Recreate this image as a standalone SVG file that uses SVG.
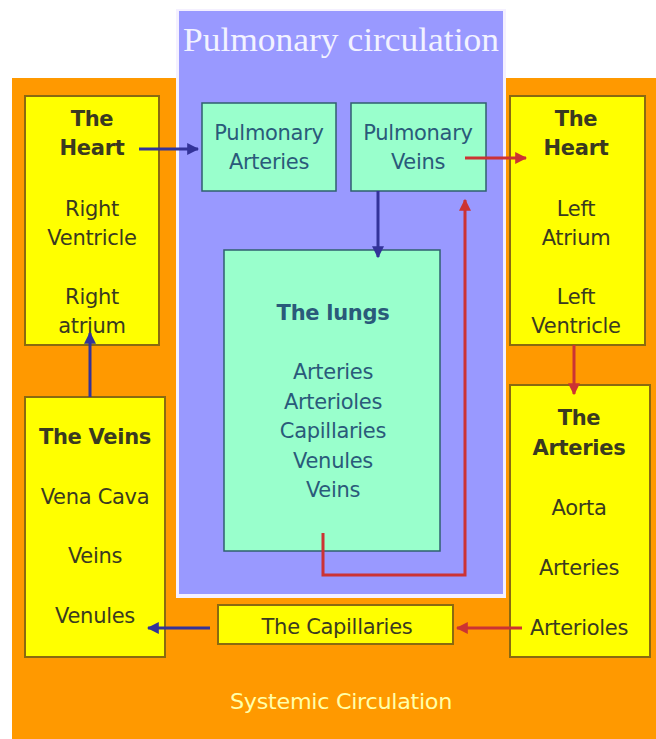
<svg xmlns="http://www.w3.org/2000/svg" width="656" height="739" viewBox="0 0 656 739">
<defs>
<style>
.yb{fill:#ffff00;stroke:#8a6a10;stroke-width:2}
.tb{fill:#99ffcc;stroke:#2f5f6f;stroke-width:1.5}
text{font-family:"DejaVu Sans","Liberation Sans",Arial,sans-serif;font-size:21px;text-anchor:middle;letter-spacing:-0.3px}
.yt{fill:#3a3a20}
.tt{fill:#2a5a7a}
.b{font-weight:bold}
.blue{stroke:#333399;stroke-width:3;fill:none}
.red{stroke:#cc3333;stroke-width:3;fill:none}
</style>
<marker id="ab" viewBox="0 0 10 10" refX="9" refY="5" markerWidth="4" markerHeight="4" orient="auto"><path d="M0,0L10,5L0,10z" fill="#333399"/></marker>
<marker id="ar" viewBox="0 0 10 10" refX="9" refY="5" markerWidth="4" markerHeight="4" orient="auto"><path d="M0,0L10,5L0,10z" fill="#cc3333"/></marker>
</defs>
<rect width="656" height="739" fill="#ffffff"/>
<rect x="12" y="78" width="644" height="661" fill="#ff9900"/>
<rect x="176" y="9" width="330" height="589" fill="#f4f0ff"/>
<rect x="179" y="11" width="324" height="583" fill="#9999ff"/>
<text x="341" y="51" textLength="316" lengthAdjust="spacingAndGlyphs" style="font-family:'Liberation Serif',serif;font-size:33px;fill:#f2f2ff;letter-spacing:0">Pulmonary circulation</text>
<text x="341" y="709" textLength="222" lengthAdjust="spacingAndGlyphs" style="fill:#ffffaa;font-size:21px">Systemic Circulation</text>

<g id="heart-right-side">
<rect class="yb" x="25" y="96" width="134" height="249"/>
<text class="yt b" x="92" y="126">The</text>
<text class="yt b" x="92" y="155">Heart</text>
<text class="yt" x="92" y="216">Right</text>
<text class="yt" x="92" y="245">Ventricle</text>
<text class="yt" x="92" y="304">Right</text>
<text class="yt" x="92" y="333">atrium</text>
</g>
<g id="veins">
<rect class="yb" x="25" y="397" width="140" height="260"/>
<text class="yt b" x="95" y="444">The Veins</text>
<text class="yt" x="95" y="504">Vena Cava</text>
<text class="yt" x="95" y="563">Veins</text>
<text class="yt" x="95" y="623">Venules</text>
</g>
<g id="heart-left-side">
<rect class="yb" x="510" y="96" width="135" height="249"/>
<text class="yt b" x="576" y="126">The</text>
<text class="yt b" x="576" y="155">Heart</text>
<text class="yt" x="576" y="216">Left</text>
<text class="yt" x="576" y="245">Atrium</text>
<text class="yt" x="576" y="304">Left</text>
<text class="yt" x="576" y="333">Ventricle</text>
</g>
<g id="arteries">
<rect class="yb" x="510" y="385" width="140" height="272"/>
<text class="yt b" x="579" y="425">The</text>
<text class="yt b" x="579" y="455">Arteries</text>
<text class="yt" x="579" y="515">Aorta</text>
<text class="yt" x="579" y="575">Arteries</text>
<text class="yt" x="579" y="635">Arterioles</text>
</g>
<g id="capillaries">
<rect class="yb" x="218" y="605" width="235" height="39"/>
<text class="yt" x="337" y="634">The Capillaries</text>
</g>
<g id="pulmonary-arteries">
<rect class="tb" x="202" y="103" width="134" height="88"/>
<text class="tt" x="269" y="140">Pulmonary</text>
<text class="tt" x="269" y="169">Arteries</text>
</g>
<g id="pulmonary-veins">
<rect class="tb" x="351" y="103" width="135" height="88"/>
<text class="tt" x="418" y="140">Pulmonary</text>
<text class="tt" x="418" y="169">Veins</text>
</g>
<g id="lungs">
<rect class="tb" x="224" y="250" width="216" height="301"/>
<text class="tt b" x="333" y="320">The lungs</text>
<text class="tt" x="333" y="379">Arteries</text>
<text class="tt" x="333" y="409">Arterioles</text>
<text class="tt" x="333" y="438">Capillaries</text>
<text class="tt" x="333" y="468">Venules</text>
<text class="tt" x="333" y="497">Veins</text>
</g>
<g id="connectors">
<path class="blue" d="M139,149H198" marker-end="url(#ab)"/>
<path class="red" d="M465,158H526" marker-end="url(#ar)"/>
<path class="blue" d="M378,191V257" marker-end="url(#ab)"/>
<path class="red" d="M323,533V575H465V200" marker-end="url(#ar)"/>
<path class="red" d="M574,345V394" marker-end="url(#ar)"/>
<path class="red" d="M522,628H457" marker-end="url(#ar)"/>
<path class="blue" d="M210,628H148" marker-end="url(#ab)"/>
<path class="blue" d="M90,397V333" marker-end="url(#ab)"/>
</g>
</svg>
